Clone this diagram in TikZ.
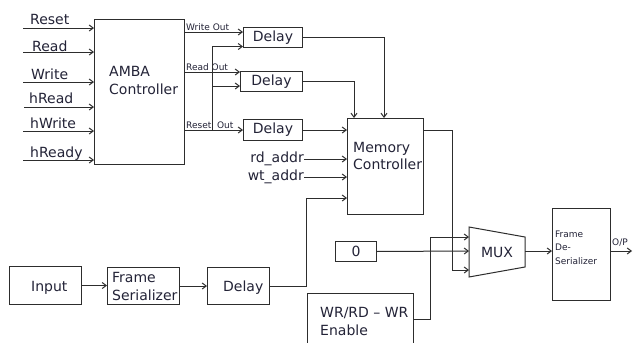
\documentclass[tikz,border=0pt]{standalone}
\usepackage{fontspec}
\setmainfont{DejaVu Sans}
\usetikzlibrary{arrows.meta}
\definecolor{txt}{RGB}{35,35,55}
\definecolor{ln}{RGB}{45,45,45}
\begin{document}
\begin{tikzpicture}[x=1pt,y=-1pt,
  line/.style={draw=ln, line width=1pt},
  arr/.style={line, -{Straight Barb[length=4pt,width=6pt]}},
  box/.style={draw=ln, line width=1pt, inner sep=0pt, anchor=north west, text=txt, font=\fontsize{14}{17}\selectfont},
  lbl/.style={font=\fontsize{14}{17}\selectfont, text=txt, inner sep=0pt},
  small/.style={font=\fontsize{9}{11}\selectfont, text=txt, inner sep=0pt},
]
\clip (0,0) rectangle (633,343);
\fill[white] (0,0) rectangle (633,343);

% boxes
\node[box, minimum width=90pt, minimum height=145pt] (amba) at (94,19) {};
\node[box, minimum width=59pt, minimum height=20pt] (d1) at (243,27) {Delay};
\node[box, minimum width=62pt, minimum height=20pt] (d2) at (240,71) {Delay};
\node[box, minimum width=59pt, minimum height=21pt] (d3) at (243,119) {Delay};
\node[box, minimum width=76pt, minimum height=96pt] (mem) at (347,118) {};
\node[box, minimum width=72pt, minimum height=38pt] (inp) at (9,266) {};
\node[box, minimum width=72pt, minimum height=37pt] (fs) at (107,267) {};
\node[box, minimum width=62pt, minimum height=37pt] (d4) at (207,267) {};
\node[box, minimum width=41pt, minimum height=20pt] (zero) at (335,241) {0};
\node[box, minimum width=106pt, minimum height=70pt] (wr) at (307,293) {};
\node[box, minimum width=58pt, minimum height=92pt] (fds) at (552,208) {};

% texts
\node[lbl, anchor=base west] (tAmba1) at (109,76) {AMBA};
\node[lbl, anchor=base west] (tAmba2) at (109,94) {Controller};
\node[lbl, anchor=base west] (tMem1) at (353,152) {Memory};
\node[lbl, anchor=base west] (tMem2) at (353,169) {Controller};
\node[lbl, anchor=base west] (tInp) at (31,291) {Input};
\node[lbl, anchor=base west] (tFs1) at (112,282) {Frame};
\node[lbl, anchor=base west] (tFs2) at (112,300) {Serializer};
\node[lbl, anchor=base west] (tD4) at (223,291) {Delay};
\node[lbl, anchor=base west] (tWr1) at (320,317) {WR/RD – WR};
\node[lbl, anchor=base west] (tWr2) at (320,335) {Enable};
\node[small, anchor=base west] (tF1) at (555,237) {Frame};
\node[small, anchor=base west] (tF2) at (555,250.5) {De-};
\node[small, anchor=base west] (tF3) at (555,264) {Serializer};
\node[small, anchor=base west] (tOP) at (612,245) {O/P};

% input labels and arrows
\node[lbl, anchor=base west] (lReset) at (30,24) {Reset};
\node[lbl, anchor=base west] (lRead) at (32,51) {Read};
\node[lbl, anchor=base west] (lWrite) at (31,79) {Write};
\node[lbl, anchor=base west] (lhRead) at (29,103) {hRead};
\node[lbl, anchor=base west] (lhWrite) at (30,128) {hWrite};
\node[lbl, anchor=base west] (lhReady) at (30,157) {hReady};
\coordinate (iReset) at (23,28);
\coordinate (iRead) at (23,52);
\coordinate (iWrite) at (23,82);
\coordinate (ihRead) at (24,107);
\coordinate (ihWrite) at (23,131);
\coordinate (ihReady) at (23,160);
\foreach \c in {iReset,iRead,iWrite,ihRead,ihWrite,ihReady}
  \draw[arr] (\c) -- (\c -| amba.west);

% AMBA outputs
\node[small, anchor=base west] (lWo) at (186,30.5) {Write Out};
\node[small, anchor=base west] (lRo) at (186,70) {Read Out};
\node[small, anchor=base west] (lRso) at (186,128) {Reset\ \ Out};
\draw[arr] (amba.east |- 0,32) -- (d1.west |- 0,32);
\draw[arr] (amba.east |- 0,72) -- (d2.west |- 0,72);
\draw[arr] (amba.east |- 0,130) -- (d3.west |- 0,130);
\coordinate (brR) at (212,130);
\draw[arr] (brR) |- (d1.west |- 0,46.5);
\draw[arr] (brR |- 0,86) -- (d2.west |- 0,86);

% delays to memory controller
\draw[arr] (d1.east) -| (384,0 |- mem.north);
\draw[arr] (d2.east) -| (354,0 |- mem.north);
\draw[arr] (d3.east) -- (d3.east -| mem.west);

\node[lbl, anchor=east] (rd) at (304,159) {rd\_addr};
\node[lbl, anchor=east] (wt) at (304,177) {wt\_addr};
\draw[arr] (rd.east) -- (rd.east -| mem.west);
\draw[arr] (wt.east) -- (wt.east -| mem.west);

% bottom row
\draw[arr] (inp.east) -- (inp.east -| fs.west);
\draw[arr] (fs.east) -- (fs.east -| d4.west);
\coordinate (j4) at (306,198);
\draw[line] (d4.east) -| (j4);
\draw[arr] (j4) -- (j4 -| mem.west);

% MUX
\draw[line] (469,227) -- (525,237) -- (525,267) -- (469,277) -- cycle;
\node[lbl] (mux) at (497,252) {MUX};
\coordinate (muxT) at (469,237);
\coordinate (muxM) at (469,251);
\coordinate (muxB) at (469,270);
\coordinate (muxO) at (525,251);
\draw[arr] (mem.east |- 0,130) -| (muxB -| 452,0) -- (muxB);
\draw[arr] (zero.east) -- (muxM);
\draw[arr] (wr.east |- 0,319) -| (muxT -| 430,0) -- (muxT);
\draw[arr] (muxO) -- (muxO -| fds.west);
\coordinate (opEnd) at (632,251);
\draw[arr] (fds.east |- opEnd) -- (opEnd);
\end{tikzpicture}
\end{document}
